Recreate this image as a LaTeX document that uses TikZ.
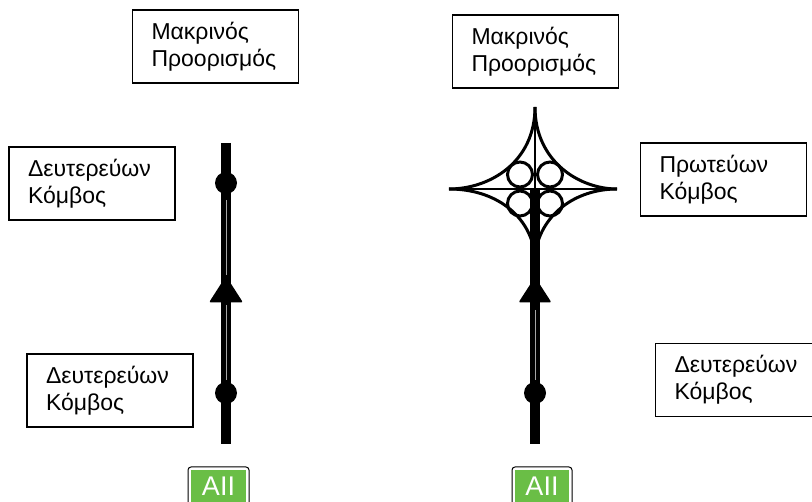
\documentclass[tikz,border=0pt]{standalone}
\usepackage{fontspec}
\setmainfont{Liberation Sans}
\definecolor{badgegreen}{RGB}{106,190,70}
\tikzset{
  box/.style={draw, line width=1.5pt, inner xsep=19pt, inner ysep=0pt, align=left,
    text width=128pt, minimum height=73pt, font=\fontsize{23}{27}\selectfont},
  road/.style={line width=10pt, black},
  roadmid/.style={line width=0.7pt, black!35},
  ramp/.style={line width=3pt, black},
  thinroad/.style={line width=2pt, black},
  dotnode/.style={circle, fill=black, minimum size=22pt, inner sep=0pt},
  badge/.style={draw=black, line width=1pt, rounded corners=3pt, fill=white},
  badgetext/.style={text=white, font=\fontsize{27}{27}\selectfont}
}
\begin{document}
\begin{tikzpicture}[x=1pt,y=-1pt]
\useasboundingbox (0,0) rectangle (812,502);
% boxes
\node[box] (lt) at (215.5,46.5) {Μακρινός\\Προορισμός};
\node[box] (lm) at (92,183.5) {Δευτερεύων\\Κόμβος};
\node[box] (lb) at (110,390.5) {Δευτερεύων\\Κόμβος};
\node[box] (rt) at (535.5,51.5) {Μακρινός\\Προορισμός};
\node[box] (rm) at (723.5,179.5) {Πρωτεύων\\Κόμβος};
\node[box] (rb) at (738.5,380) {Δευτερεύων\\Κόμβος};
% left road
\coordinate (ltop) at (226,143);
\coordinate (lbot) at (226,444);
\draw[road] (ltop) -- (lbot);
\draw[roadmid] (226,200) -- (226,275);
\draw[roadmid] (226,305) -- (226,380);
\node[dotnode] (ld1) at (226,183) {};
\node[dotnode] (ld2) at (226,393) {};
\fill[rounded corners=2pt] (226,276) -- (243,302.5) -- (209,302.5) -- cycle;
% right road
\coordinate (rc) at (535,189);
\coordinate (rbot) at (535,444);
\draw[road] (535,190) -- (rbot);
\draw[roadmid] (535,310) -- (535,380);
\node[dotnode] (rd) at (535,393) {};
\fill[rounded corners=2pt] (535,277) -- (551.5,302.5) -- (518.5,302.5) -- cycle;
% interchange
\draw[thinroad] (449,189) -- (617,189);
\draw[thinroad] (535,107) -- (rc);
\draw[ramp] (535,107) .. controls (535,162) and (490,189) .. (449,189);
\draw[ramp] (535,107) .. controls (535,162) and (580,189) .. (617,189);
\draw[ramp] (449,189) .. controls (495,189) and (530,215) .. (535,255);
\draw[ramp] (617,189) .. controls (575,189) and (540,215) .. (535,255);
\draw[ramp] (520,174.5) circle (12.5);
\draw[ramp] (550,174.5) circle (12.5);
\draw[ramp] (520,203.5) circle (12.5);
\draw[ramp] (550,203.5) circle (12.5);
% badges
\draw[badge] (188,467) rectangle (249,512);
\fill[badgegreen] (191,470) rectangle (246,512);
\node[badgetext] (b1) at (218.5,486) {AII};
\draw[badge] (512,467) rectangle (572,512);
\fill[badgegreen] (515,470) rectangle (569,512);
\node[badgetext] (b2) at (542,486) {AII};
\end{tikzpicture}
\end{document}
